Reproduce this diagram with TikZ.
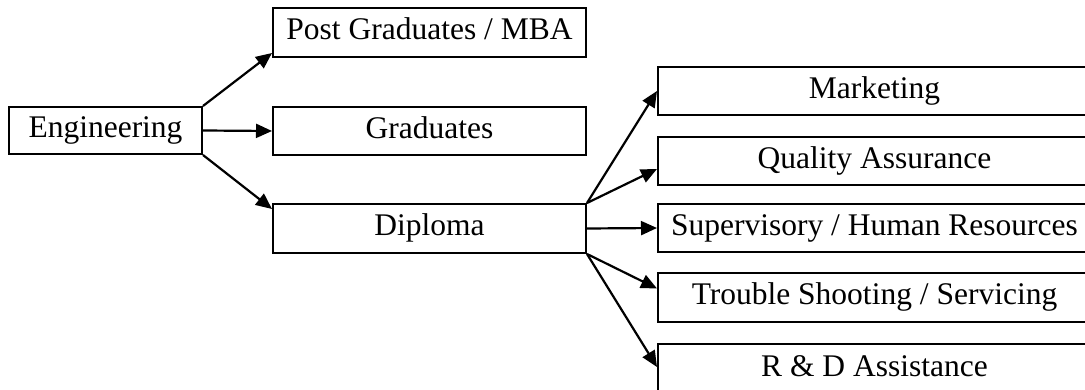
\documentclass[tikz,border=0pt]{standalone}
\usepackage{fontspec}
\setmainfont{Liberation Serif}
\usetikzlibrary{arrows.meta,calc}
\tikzset{
  box/.style={draw, line width=2pt, inner sep=0pt, text height=22pt, text depth=7pt,
    font=\fontsize{31.5}{36}\selectfont},
  conn/.style={line width=2.2pt, -{Triangle[length=16pt,width=14pt]}}
}
\begin{document}
\begin{tikzpicture}[x=1pt,y=-1pt]
\useasboundingbox (0,0) rectangle (1085,390);
\clip (0,0) rectangle (1085,390);
\node[box, minimum width=193pt, minimum height=47pt] (eng) at (105.5,130.5) {Engineering};
\node[box, minimum width=313pt, minimum height=49pt] (pg) at (429.5,32.5) {Post Graduates / MBA};
\node[box, minimum width=313pt, minimum height=48pt] (gr) at (429.5,131) {Graduates};
\node[box, minimum width=313pt, minimum height=49pt] (dip) at (429.5,228.5) {Diploma};
\node[box, minimum width=433pt, minimum height=48pt] (mk) at (874.5,91) {Marketing};
\node[box, minimum width=433pt, minimum height=48pt] (qa) at (874.5,161) {Quality Assurance};
\node[box, minimum width=433pt, minimum height=48pt] (sh) at (874.5,228) {Supervisory / Human Resources};
\node[box, minimum width=433pt, minimum height=49pt] (ts) at (874.5,297.5) {Trouble Shooting / Servicing};
\node[box, minimum width=433pt, minimum height=49pt] (rd) at (874.5,368.5) {R \& D Assistance};
\draw[conn] (eng.north east) -- ($(pg.south west)+(0pt,5pt)$);
\draw[conn] (eng.east) -- (gr.west);
\draw[conn] (eng.south east) -- ($(dip.north west)+(0pt,-6pt)$);
\draw[conn] (dip.north east) -- (mk.west);
\draw[conn] (dip.north east) -- ($(qa.south west)+(0pt,17pt)$);
\draw[conn] (dip.east) -- (sh.west);
\draw[conn] (dip.south east) -- ($(ts.west)+(0pt,9pt)$);
\draw[conn] (dip.south east) -- ($(rd.north west)+(0pt,-24pt)$);
\end{tikzpicture}
\end{document}
